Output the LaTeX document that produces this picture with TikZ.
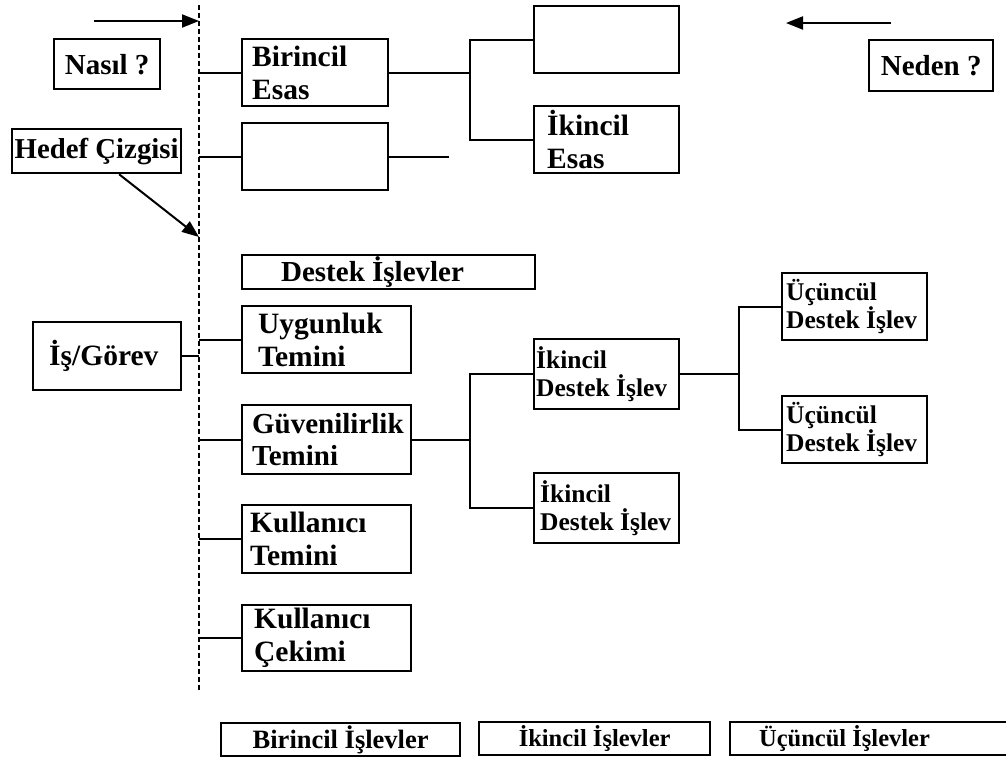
\documentclass[tikz,border=0pt]{standalone}
\usepackage{fontspec}
\setmainfont{Liberation Serif}
\usetikzlibrary{arrows.meta}
\newcommand\bigf{\fontsize{29.5pt}{33pt}\selectfont}
\newcommand\midf{\fontsize{29pt}{32pt}\selectfont}
\newcommand\smallf{\fontsize{25.5pt}{28.5pt}\selectfont}
\newcommand\labf{\fontsize{24.5pt}{30pt}\selectfont}
\begin{document}
\begin{tikzpicture}[x=1pt,y=-1pt,
  blk/.style={draw, line width=2.3pt, anchor=north west, inner sep=0pt,
    align=flush left, font=\bigf\bfseries},
  lab/.style={blk, font=\labf\bfseries},
  sub/.style={blk, font=\smallf\bfseries},
  conn/.style={line width=2pt},
  arr/.style={line width=2pt, -{Triangle[length=17pt,width=13pt]}},
  guide/.style={line width=2.2pt, dash pattern=on 5pt off 3pt}]
\useasboundingbox (0,0) rectangle (1006,758);

% guide line between "how" and "why"
\coordinate (dtop) at (199,5);
\coordinate (dbot) at (199,690);
\draw[guide] (dtop) -- (dbot);

% direction arrows and side labels
\coordinate (howstart) at (94,21);
\draw[arr] (howstart) -- (howstart -| dtop);
\coordinate (whystart) at (891,23);
\coordinate (whyend) at (786,23);
\draw[arr] (whystart) -- (whyend);
\node[blk, minimum width=106pt, minimum height=50pt, font=\fontsize{29pt}{33pt}\selectfont\bfseries] (nasil) at (53,38) {Nas\i l ?};
\node[blk, minimum width=124pt, minimum height=51pt, font=\fontsize{29pt}{33pt}\selectfont\bfseries] (neden) at (868,39) {Neden ?};
\node[blk, minimum width=169pt, minimum height=44pt, font=\fontsize{28.8pt}{33pt}\selectfont\bfseries] (hedef) at (11,128) {Hedef Çizgisi};
\coordinate (hedeftip) at (199,237);
\draw[arr] ([xshift=22.5pt]hedef.south) -- (hedeftip);

% primary basic functions
\node[blk, minimum height=67pt, text width=126pt, inner xsep=10pt] (be) at (241,38) {Birincil\\Esas};
\node[blk, minimum width=146pt, minimum height=67pt] (e1) at (241,122) {};
\node[blk, minimum width=145pt, minimum height=67pt] (et) at (533,5) {};
\node[blk, minimum height=67pt, text width=119pt, inner xsep=13pt] (ie) at (533,105) {İkincil\\Esas};
\draw[conn] (be.west) -- (be.west -| dtop);
\draw[conn] (e1.west) -- (e1.west -| dtop);
\coordinate (j1) at (470,0);
\draw[conn] (be.east) -- (be.east -| j1);
\draw[conn] (et.west) -- (et.west -| j1) -- (ie.west -| j1) -- (ie.west);
\coordinate (stub) at (449,0);
\draw[conn] (e1.east) -- (e1.east -| stub);

% supporting functions
\node[blk, minimum height=34pt, text width=215pt, inner xsep=39pt, font=\fontsize{29pt}{33pt}\selectfont\bfseries] (dest) at (241,254) {Destek İşlevler};
\node[blk, minimum height=68pt, text width=116pt, inner xsep=16pt] (is) at (32,321) {İş/Görev};
\draw[conn] (is.east) -- (is.east -| dtop);
\node[blk, minimum height=67pt, text width=137pt, inner xsep=16pt] (ut) at (241,305) {Uygunluk\\Temini};
\node[blk, minimum height=69pt, text width=149pt, inner xsep=10pt, font=\midf\bfseries] (gt) at (241,404) {Güvenilirlik\\Temini};
\node[blk, minimum height=68pt, text width=153pt, inner xsep=8pt] (kt) at (241,504) {Kullan\i c\i\\Temini};
\node[blk, minimum height=66pt, text width=145pt, inner xsep=12pt] (kc) at (241,604) {Kullan\i c\i\\Çekimi};
\foreach \n in {ut,gt,kt,kc}
  \draw[conn] (\n.west) -- (\n.west -| dtop);

% secondary and tertiary supporting functions
\node[sub, minimum height=70pt, text width=141pt, inner xsep=2pt] (d1) at (533,338) {İkincil\\Destek~İşlev};
\node[sub, minimum height=70pt, text width=133pt, inner xsep=6pt] (d2) at (533,472) {İkincil\\Destek~İşlev};
\node[sub, minimum height=67pt, text width=137pt, inner xsep=4pt] (u1) at (781,272) {Üçüncül\\Destek~İşlev};
\node[sub, minimum height=67pt, text width=137pt, inner xsep=4pt] (u2) at (781,395) {Üçüncül\\Destek~İşlev};
\coordinate (j2) at (470,0);
\draw[conn] (gt.east) -- (gt.east -| j2);
\draw[conn] (d1.west) -- (d1.west -| j2) -- (d2.west -| j2) -- (d2.west);
\coordinate (j3) at (739,0);
\draw[conn] (d1.east) -- (d1.east -| j3);
\draw[conn] (u1.west) -- (u1.west -| j3) -- (u2.west -| j3) -- (u2.west);

% column headings
\node[lab, minimum width=239pt, minimum height=33pt, font=\fontsize{26.5pt}{30pt}\selectfont\bfseries] (b1) at (220,722) {Birincil İşlevler};
\node[lab, minimum width=231pt, minimum height=33pt] (b2) at (478,721) {İkincil İşlevler};
\node[lab, minimum height=33pt, text width=225pt, inner xsep=29pt] (b3) at (729,721) {Üçüncül~İşlevler};
\end{tikzpicture}
\end{document}
